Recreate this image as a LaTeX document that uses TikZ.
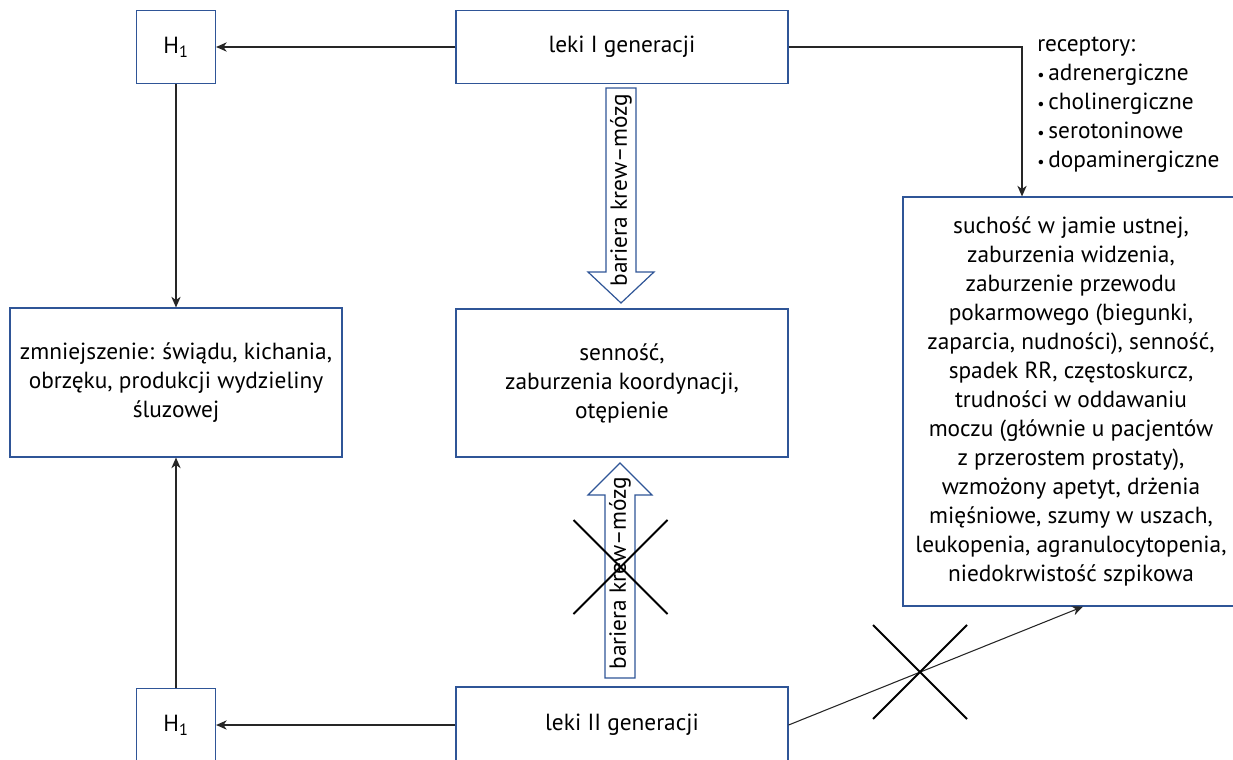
\documentclass[tikz,border=0pt]{standalone}
\usepackage{fontspec}
\setmainfont{PT Sans}
\usetikzlibrary{arrows.meta,shapes.misc}
\definecolor{boxblue}{RGB}{47,85,151}
\newcommand{\dotitem}{{\fontsize{12}{12}\selectfont\textbullet}\,}

\begin{document}
\begin{tikzpicture}[x=0.75pt, y=-0.75pt,
    font=\fontsize{17.5}{21.75}\selectfont,
    effbox/.style={draw=boxblue, line width=0.9pt, align=center, inner sep=4pt},
    widebox/.style={effbox, minimum width=249pt},
    hbox/.style={effbox, minimum width=59.25pt, minimum height=54.75pt},
    conn/.style={-{Stealth[length=8pt, width=7pt, inset=2.5pt]}, line width=0.8pt, black!85},
    barrier/.style={draw=boxblue, line width=0.9pt, fill=white},
    nope/.style={draw, cross out, line width=1.5pt, inner sep=0pt, minimum size=69pt}
  ]
  \clip (0,0) rectangle (1233,760);

  \node[widebox, minimum height=54.75pt] (gen1) at (622,47) {leki I generacji};
  \node[hbox] (h1top) at (176,47) {H\textsubscript{1}};
  \node[widebox, minimum height=111.75pt] (relief) at (176,382.5) {%
    zmniejszenie: świądu, kichania,\\
    obrzęku, produkcji wydzieliny\\
    śluzowej};
  \node[widebox, minimum height=111pt] (cns) at (622,383) {%
    senność,\\
    zaburzenia koordynacji,\\
    otępienie};
  \node[effbox, minimum width=270pt, minimum height=306.75pt] (side) at (1083,401.5) {};
  \node[align=center] (sidetext) at (1071,401.5) {%
    suchość w jamie ustnej,\\
    zaburzenia widzenia,\\
    zaburzenie przewodu\\
    pokarmowego (biegunki,\\
    zaparcia, nudności), senność,\\
    spadek RR, częstoskurcz,\\
    trudności w oddawaniu\\
    moczu (głównie u pacjentów\\
    z przerostem prostaty),\\
    wzmożony apetyt, drżenia\\
    mięśniowe, szumy w uszach,\\
    leukopenia, agranulocytopenia,\\
    niedokrwistość szpikowa};
  \node[widebox, minimum height=57pt] (gen2) at (622,725) {leki II generacji};
  \node[hbox] (h1bot) at (176,725) {H\textsubscript{1}};
  \node[anchor=north west, align=left, inner sep=0pt] (rec) at (1037,37) {%
    receptory:\\
    \dotitem adrenergiczne\\
    \dotitem cholinergiczne\\
    \dotitem serotoninowe\\
    \dotitem dopaminergiczne};

  % bariera krew-mozg
  \draw[barrier] (606,88) -- (636,88) -- (636,272) -- (654,272) -- (621,303)
    -- (588,272) -- (606,272) -- cycle;
  \node[rotate=90] (bbb1) at (621,190) {bariera krew--mózg};
  \draw[barrier] (605,678) -- (635,678) -- (635,495) -- (652,495) -- (620,463)
    -- (588,495) -- (605,495) -- cycle;
  \node[rotate=90] (bbb2) at (620,573) {bariera krew--mózg};

  \draw[conn] (gen1) -- (h1top);
  \draw[conn] (h1top) -- (relief);
  \draw[conn] (h1bot) -- (relief);
  \draw[conn] (gen2) -- (h1bot);
  \draw[conn] (gen1.east) -| ([xshift=-45.75pt]side.north);
  \draw[conn] (gen2.east) -- (side.south);

  \node[nope] (cross1) at (620.5,567) {};
  \node[nope] (cross2) at (920,672) {};
\end{tikzpicture}
\end{document}
